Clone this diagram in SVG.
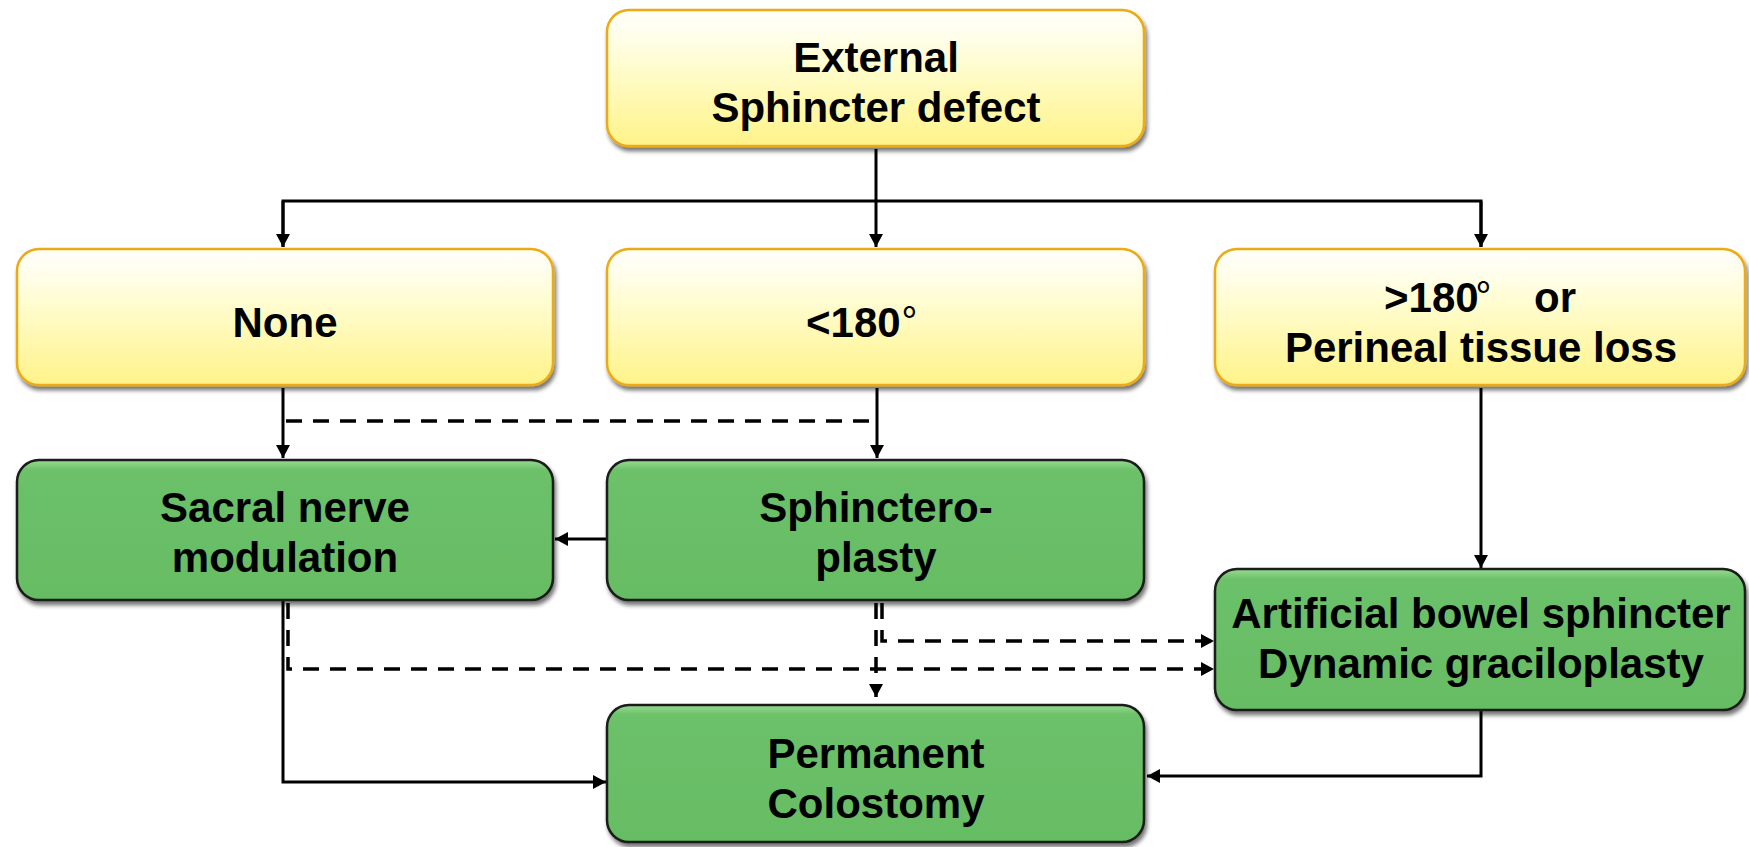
<svg xmlns="http://www.w3.org/2000/svg" width="1749" height="847" viewBox="0 0 1749 847">
  <defs>
    <linearGradient id="yellowFill" x1="0" y1="0" x2="0" y2="1">
      <stop offset="0" stop-color="#FFFFF4"/>
      <stop offset="0.35" stop-color="#FFFDD6"/>
      <stop offset="1" stop-color="#FFF388"/>
    </linearGradient>
    <linearGradient id="greenFill" x1="0" y1="0" x2="0" y2="1">
      <stop offset="0" stop-color="#9ADB93"/>
      <stop offset="0.07" stop-color="#6CC169"/>
      <stop offset="1" stop-color="#66BC64"/>
    </linearGradient>
    <linearGradient id="shine" x1="0" y1="0" x2="0" y2="1">
      <stop offset="0" stop-color="#FFFFFF" stop-opacity="0.55"/>
      <stop offset="1" stop-color="#FFFFFF" stop-opacity="0"/>
    </linearGradient>
    <filter id="bevel" x="-5%" y="-10%" width="112%" height="130%">
      <feDropShadow dx="2" dy="4" stdDeviation="2" flood-color="#000" flood-opacity="0.55"/>
    </filter>
    <marker id="arrow" markerUnits="userSpaceOnUse" markerWidth="14" markerHeight="14" refX="13" refY="7" orient="auto">
      <path d="M0,0 L13,7 L0,14 Z" fill="#000"/>
    </marker>
    <style>
      .yellow { fill: url(#yellowFill); stroke: #EBAA14; stroke-width: 2.5; filter: url(#bevel); }
      .green { fill: url(#greenFill); stroke: #1A1A1A; stroke-width: 2.5; filter: url(#bevel); }
      .label { font-family: "Liberation Sans", Arial, sans-serif; font-weight: bold; font-size: 42px; fill: #000; text-anchor: middle; }
      .start { text-anchor: start; }
      .deg { font-family: "Noto Sans CJK JP", "DejaVu Sans", sans-serif; font-weight: normal; font-size: 40px; fill: #000; }
      .link { fill: none; stroke: #000; stroke-width: 3; }
      .dash { stroke-dasharray: 16 11; stroke-width: 3.5; }
    </style>
  </defs>

  <rect width="1749" height="847" fill="#FFFFFF"/>

  <!-- connectors -->
  <g id="connectors">
    <path class="link" d="M876,149 V247" marker-end="url(#arrow)"/>
    <path class="link" d="M283,247 V201 H1481 V247" />
    <path class="link" d="M283,201 V247" marker-end="url(#arrow)"/>
    <path class="link" d="M1481,201 V247" marker-end="url(#arrow)"/>
    <path class="link" d="M283,388 V458" marker-end="url(#arrow)"/>
    <path class="link" d="M877,388 V458" marker-end="url(#arrow)"/>
    <path class="link dash" d="M286,421 H877"/>
    <path class="link" d="M1481,388 V568" marker-end="url(#arrow)"/>
    <path class="link" d="M607,539 H555" marker-end="url(#arrow)"/>
    <path class="link" d="M283,601 V782 H606" marker-end="url(#arrow)"/>
    <path class="link dash" d="M288,603 V669 H1214" marker-end="url(#arrow)"/>
    <path class="link dash" d="M876,603 V697" marker-end="url(#arrow)"/>
    <path class="link dash" d="M882,603 V641 H1214" marker-end="url(#arrow)"/>
    <path class="link" d="M1481,711 V776 H1147" marker-end="url(#arrow)"/>
  </g>

  <g id="external-sphincter-defect">
    <rect class="yellow" x="607" y="10" width="537" height="136" rx="22"/>
    <rect x="612" y="14" width="527" height="40" rx="18" fill="url(#shine)"/>
    <text class="label" x="876" y="72">External</text>
    <text class="label" x="876" y="122">Sphincter defect</text>
  </g>

  <g id="none">
    <rect class="yellow" x="17" y="249" width="536" height="136" rx="22"/>
    <rect x="22" y="253" width="526" height="40" rx="18" fill="url(#shine)"/>
    <text class="label" x="285" y="337">None</text>
  </g>

  <g id="less-than-180">
    <rect class="yellow" x="607" y="249" width="537" height="136" rx="22"/>
    <rect x="612" y="253" width="527" height="40" rx="18" fill="url(#shine)"/>
    <text class="label start" x="806" y="337">&lt;180</text>
    <text class="deg" x="902" y="337">°</text>
  </g>

  <g id="greater-than-180">
    <rect class="yellow" x="1215" y="249" width="530" height="136" rx="22"/>
    <rect x="1220" y="253" width="520" height="40" rx="18" fill="url(#shine)"/>
    <text class="label start" x="1384" y="312">&gt;180</text>
    <text class="deg" x="1476" y="312">°</text>
    <text class="label start" x="1534" y="312">or</text>
    <text class="label" x="1481" y="362">Perineal tissue loss</text>
  </g>

  <g id="sacral-nerve-modulation">
    <rect class="green" x="17" y="460" width="536" height="140" rx="22"/>
    <text class="label" x="285" y="522">Sacral nerve</text>
    <text class="label" x="285" y="572">modulation</text>
  </g>

  <g id="sphincteroplasty">
    <rect class="green" x="607" y="460" width="537" height="140" rx="22"/>
    <text class="label" x="876" y="522">Sphinctero-</text>
    <text class="label" x="876" y="572">plasty</text>
  </g>

  <g id="artificial-bowel-sphincter">
    <rect class="green" x="1215" y="569" width="530" height="141" rx="22"/>
    <text class="label" x="1481" y="628">Artificial bowel sphincter</text>
    <text class="label" x="1481" y="678">Dynamic graciloplasty</text>
  </g>

  <g id="permanent-colostomy">
    <rect class="green" x="607" y="705" width="537" height="137" rx="22"/>
    <text class="label" x="876" y="768">Permanent</text>
    <text class="label" x="876" y="818">Colostomy</text>
  </g>
</svg>
